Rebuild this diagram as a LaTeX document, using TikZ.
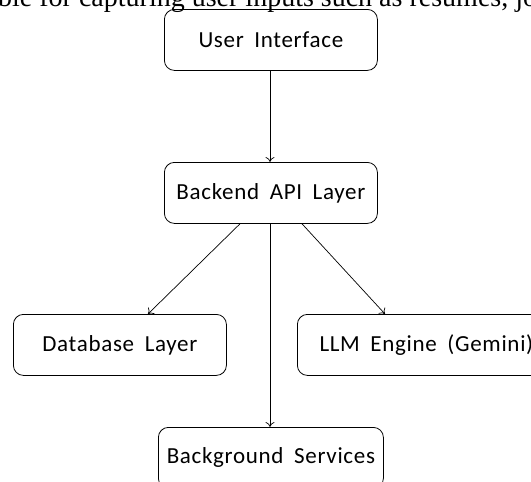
\documentclass[tikz,border=0pt]{standalone}
\usepackage{fontspec}
\setmainfont{Carlito}
\newfontfamily\boxfont[LetterSpace=3, WordSpace=1.8]{Carlito}
\newfontfamily\serifbody{Liberation Serif}
\usetikzlibrary{arrows.meta}
\begin{document}
\begin{tikzpicture}[x=1pt,y=-1pt,
  box/.style={draw, line width=0.8pt, rounded corners=10pt, minimum width=213pt, minimum height=61pt, inner sep=0pt, font=\boxfont\fontsize{23}{27}\selectfont, anchor=north west},
  conn/.style={draw, line width=0.7pt, -{To[length=5pt,width=9pt]}}]
\useasboundingbox (0,0) rectangle (531,482);
\clip (0,0) rectangle (531,482);
\node[font=\serifbody\fontsize{28}{31}\selectfont, anchor=base west, inner sep=0pt] (top) at (-2,6) {ble for capturing user inputs such as resumes, job descriptions};
\node[box] (ui) at (164,9) {User Interface};
\node[box] (api) at (164,162) {Backend API Layer};
\node[box] (db) at (13,314) {Database Layer};
\node[box, minimum width=258pt] (llm) at (297,314) {LLM Engine (Gemini)};
\node[box, minimum width=225pt] (bg) at (158,427) {Background Services};
\draw[conn] (ui.south -| 270,0) -- (api.north -| 270,0);
\draw[conn] ([xshift=-30pt]api.south -| 270,0) -- (db.north -| 148,0);
\draw[conn] (api.south -| 270,0) -- (bg.north -| 270,0);
\draw[conn] ([xshift=32pt]api.south -| 270,0) -- (llm.north -| 385,0);
\end{tikzpicture}
\end{document}
